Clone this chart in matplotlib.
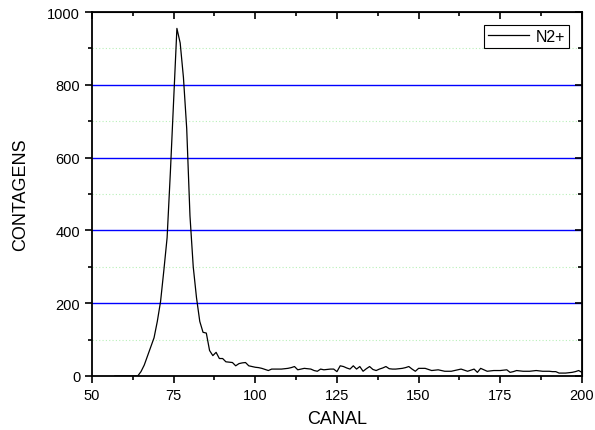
import numpy as np
import matplotlib.pyplot as plt
from matplotlib.ticker import MultipleLocator

plt.rcParams['font.family'] = ['Liberation Sans', 'DejaVu Sans']

########################## data ########################################
canal = np.arange(57, 201)
contagens = [
    0, 0, 0, 0, 0, 0, 0, 0,                                   # 57-64
    12, 30, 55, 80, 105, 150, 205, 290, 380, 560,             # 65-74
    760, 955, 915, 820, 680, 440, 300, 215, 150, 120,         # 75-84
    118, 70, 56, 65, 48, 48, 39, 38, 37, 28,                  # 85-94
    34, 36, 37, 28, 26, 24, 23, 21, 18, 15,                   # 95-104
    19, 19, 19, 19, 20, 21, 23, 26, 17, 19,                   # 105-114
    21, 20, 19, 15, 13, 19, 17, 18, 19, 19,                   # 115-124
    12, 28, 26, 22, 19, 28, 19, 26, 13, 20,                   # 125-134
    26, 18, 15, 19, 22, 26, 20, 19, 19, 20,                   # 135-144
    21, 23, 26, 19, 13, 21, 21, 21, 18, 15,                   # 145-154
    16, 17, 15, 13, 13, 13, 15, 17, 19, 16,                   # 155-164
    13, 16, 19, 10, 21, 17, 13, 14, 15, 15,                   # 165-174
    15, 16, 17, 10, 12, 15, 14, 13, 13, 13,                   # 175-184
    14, 15, 14, 13, 13, 13, 12, 12, 8, 8,                     # 185-194
    8, 9, 10, 12, 15, 10,                                     # 195-200
]
serie = 'N2+'

########################## plot ########################################
fig = plt.figure(figsize=(5.95, 4.31), dpi=100)
ax = fig.add_axes([0.1546, 0.1253, 0.8234, 0.8445])

# grid lines (Origin style)
for yv in [100, 300, 500, 700, 900]:
    ax.axhline(yv, color='#b8f0b8', lw=0.8, ls=(0, (1, 2)), zorder=0)
for yv in [200, 400, 600, 800]:
    ax.axhline(yv, color='#0000ff', lw=1.0, zorder=0)

ax.plot(canal, contagens, color='black', lw=0.9, label=serie, zorder=3)

ax.set_xlim(50, 200)
ax.set_ylim(0, 1000)
ax.xaxis.set_major_locator(MultipleLocator(25))
ax.xaxis.set_minor_locator(MultipleLocator(12.5))
ax.yaxis.set_major_locator(MultipleLocator(200))
ax.yaxis.set_minor_locator(MultipleLocator(100))

ax.tick_params(which='both', direction='out', top=False, right=False,
               labelsize=10.5, width=1.2)
ax.tick_params(which='major', length=5)
ax.tick_params(which='minor', length=3)
for s in ax.spines.values():
    s.set_linewidth(1.3)

# mirrored ticks on top / right pointing inward
ax2 = ax.secondary_xaxis('top')
ax2.xaxis.set_major_locator(MultipleLocator(25))
ax2.xaxis.set_minor_locator(MultipleLocator(12.5))
ax2.tick_params(which='both', direction='in', labeltop=False, width=1.2)
ax2.tick_params(which='major', length=5)
ax2.tick_params(which='minor', length=3)
ay2 = ax.secondary_yaxis('right')
ay2.yaxis.set_major_locator(MultipleLocator(200))
ay2.yaxis.set_minor_locator(MultipleLocator(100))
ay2.tick_params(which='both', direction='in', labelright=False, width=1.2)
ay2.tick_params(which='major', length=5)
ay2.tick_params(which='minor', length=3)

ax.set_xlabel('CANAL', fontsize=13, labelpad=6)
ax.set_ylabel('CONTAGENS', fontsize=13, labelpad=13)

leg = ax.legend(loc='upper right', fontsize=11.5, handlelength=2.6,
                fancybox=False, framealpha=1, borderpad=0.25,
                handletextpad=0.4, borderaxespad=0.8)
leg.get_frame().set_edgecolor('black')
leg.get_frame().set_linewidth(0.8)

plt.savefig('out.png', dpi=100)
